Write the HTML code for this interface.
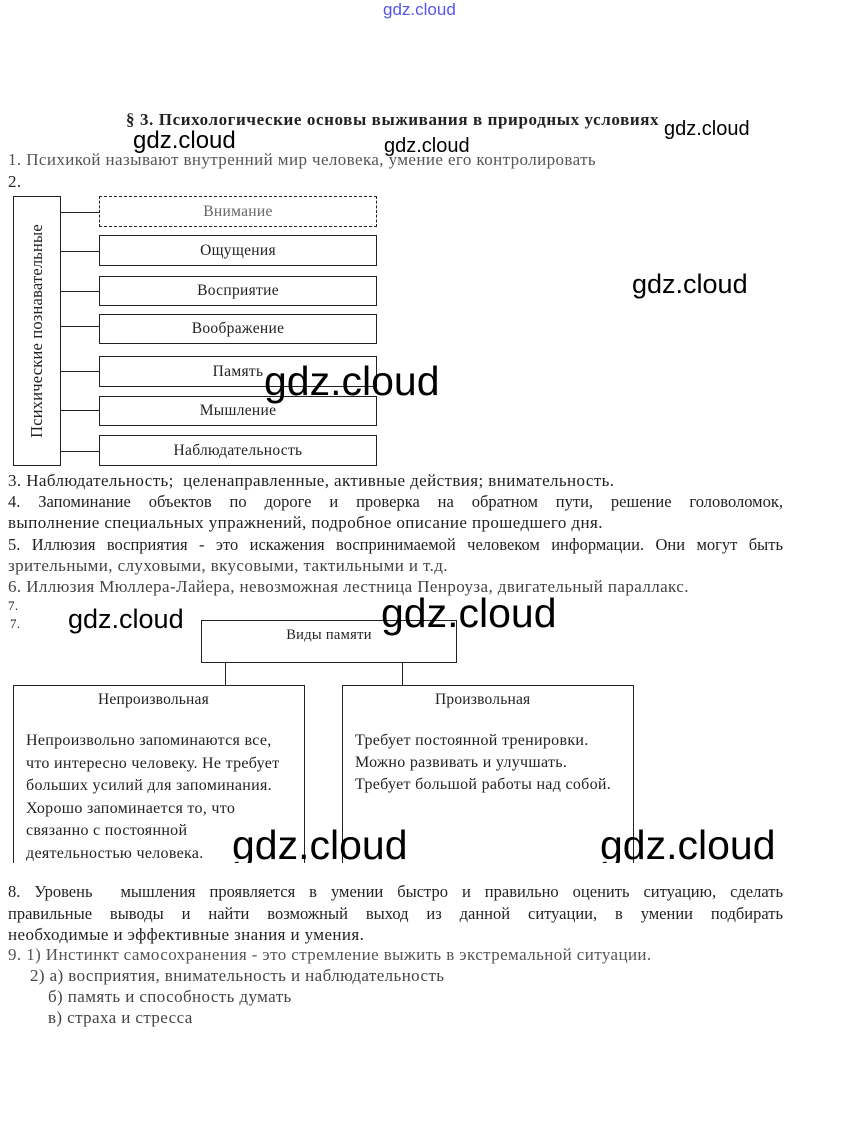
<!DOCTYPE html>
<html><head><meta charset="utf-8"><style>
body{margin:0;width:842px;height:1145px;background:#fff;position:relative;overflow:hidden;font-family:"Liberation Serif",serif;color:#222}
.a{position:absolute;white-space:nowrap;font-size:17px;letter-spacing:0.4px}
.b{position:absolute;border:1.5px solid #222;box-sizing:border-box;background:#fff}
.c{text-align:center;font-size:15.5px;letter-spacing:0.3px}
.l{position:absolute;background:#222}
.w{position:absolute;font-family:"Liberation Sans",sans-serif;color:#000;white-space:nowrap;letter-spacing:0}
.j{position:absolute;left:8px;width:775px;font-size:16.5px;text-align:justify;text-align-last:justify}
</style></head><body>
<div class="w" style="left:383px;top:0;font-size:17px;color:#55e">gdz.cloud</div>
<div class="a" style="left:126px;top:110px;font-weight:bold;letter-spacing:0.6px">§ 3. Психологические основы выживания в природных условиях</div>
<div class="w" style="left:133px;top:127px;font-size:24px">gdz.cloud</div>
<div class="w" style="left:384px;top:135px;font-size:20px">gdz.cloud</div>
<div class="w" style="left:664px;top:118px;font-size:20px">gdz.cloud</div>
<div class="a" style="left:8px;top:150px;color:#555">1. Психикой называют внутренний мир человека, умение его контролировать</div>
<div class="a" style="left:8px;top:172px">2.</div>
<div class="w" style="left:632px;top:269px;font-size:27px">gdz.cloud</div>

<div class="b" style="left:13px;top:196px;width:48px;height:270px"></div>
<div class="a" style="left:37px;top:331px;transform:translate(-50%,-50%) rotate(-90deg);font-size:16.5px;letter-spacing:0.2px">Психические познавательные</div>
<div class="l" style="left:61px;top:212px;width:38px;height:1px"></div>
<div class="l" style="left:61px;top:251px;width:38px;height:1px"></div>
<div class="l" style="left:61px;top:291px;width:38px;height:1px"></div>
<div class="l" style="left:61px;top:326px;width:38px;height:1px"></div>
<div class="l" style="left:61px;top:371px;width:38px;height:1px"></div>
<div class="l" style="left:61px;top:410px;width:38px;height:1px"></div>
<div class="l" style="left:61px;top:451px;width:38px;height:1px"></div>
<div class="b c" style="left:99px;top:196px;width:278px;height:31px;line-height:29px;border-style:dashed;color:#666">Внимание</div>
<div class="b c" style="left:99px;top:235px;width:278px;height:31px;line-height:29px">Ощущения</div>
<div class="b c" style="left:99px;top:276px;width:278px;height:30px;line-height:28px">Восприятие</div>
<div class="b c" style="left:99px;top:314px;width:278px;height:30px;line-height:28px">Воображение</div>
<div class="b c" style="left:99px;top:356px;width:278px;height:31px;line-height:29px">Память</div>
<div class="b c" style="left:99px;top:396px;width:278px;height:30px;line-height:28px">Мышление</div>
<div class="b c" style="left:99px;top:435px;width:278px;height:31px;line-height:29px">Наблюдательность</div>
<div class="w" style="left:264px;top:358px;font-size:41px">gdz.cloud</div>

<div class="a" style="left:8px;top:471px">3. Наблюдательность;&nbsp; целенаправленные, активные действия; внимательность.</div>
<div class="j" style="top:492px">4. Запоминание объектов по дороге и проверка на обратном пути, решение головоломок,</div>
<div class="a" style="left:8px;top:513px">выполнение специальных упражнений, подробное описание прошедшего дня.</div>
<div class="j" style="top:535px">5. Иллюзия восприятия - это искажения воспринимаемой человеком информации. Они могут быть</div>
<div class="a" style="left:8px;top:556px;color:#444">зрительными, слуховыми, вкусовыми, тактильными и т.д.</div>
<div class="a" style="left:8px;top:577px;color:#444">6. Иллюзия Мюллера-Лайера, невозможная лестница Пенроуза, двигательный параллакс.</div>
<div class="a" style="left:8px;top:598px;font-size:13px">7.</div>
<div class="a" style="left:10px;top:616px;font-size:13px">7.</div>
<div class="w" style="left:68px;top:604px;font-size:27px">gdz.cloud</div>

<div class="b c" style="left:201px;top:620px;width:256px;height:43px;line-height:28px;font-size:14.5px">Виды памяти</div>
<div class="w" style="left:381px;top:590px;font-size:41px">gdz.cloud</div>
<div class="l" style="left:225px;top:663px;width:1px;height:22px"></div>
<div class="l" style="left:402px;top:663px;width:1px;height:22px"></div>
<div class="b" style="left:13px;top:685px;width:292px;height:190px;border-bottom:none"></div>
<div class="b" style="left:342px;top:685px;width:292px;height:190px;border-bottom:none"></div>
<div class="a" style="left:98px;top:691px;font-size:15.5px;letter-spacing:0.2px">Непроизвольная</div>
<div class="a" style="left:435px;top:691px;font-size:15.5px;letter-spacing:0.2px">Произвольная</div>
<div class="a" style="left:26px;top:730px;font-size:16px;letter-spacing:0.3px;line-height:22.5px">Непроизвольно запоминаются все,<br>что интересно человеку. Не требует<br>больших усилий для запоминания.<br>Хорошо запоминается то, что<br>связанно с постоянной<br>деятельностью человека.</div>
<div class="a" style="left:355px;top:730px;font-size:16px;letter-spacing:0.3px;line-height:22px">Требует постоянной тренировки.<br>Можно развивать и улучшать.<br>Требует большой работы над собой.</div>
<div class="w" style="left:232px;top:822px;font-size:41px">gdz.cloud</div>
<div class="w" style="left:600px;top:822px;font-size:41px">gdz.cloud</div>
<div style="position:absolute;left:0;top:863px;width:842px;height:14px;background:#fff"></div>

<div class="j" style="top:882px">8. Уровень&nbsp; мышления проявляется в умении быстро и правильно оценить ситуацию, сделать</div>
<div class="j" style="top:904px">правильные выводы и найти возможный выход из данной ситуации, в умении подбирать</div>
<div class="a" style="left:8px;top:925px">необходимые и эффективные знания и умения.</div>
<div class="a" style="left:8px;top:945px;color:#555">9. 1) Инстинкт самосохранения - это стремление выжить в экстремальной ситуации.</div>
<div class="a" style="left:30px;top:966px;color:#444">2) а) восприятия, внимательность и наблюдательность</div>
<div class="a" style="left:48px;top:987px;color:#444">б) память и способность думать</div>
<div class="a" style="left:48px;top:1008px;color:#444">в) страха и стресса</div>
</body></html>
